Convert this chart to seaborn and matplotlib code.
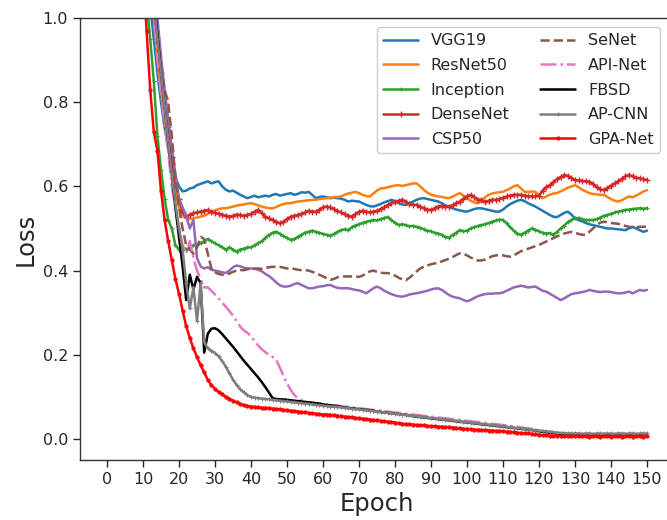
import matplotlib
matplotlib.use("Agg")
import matplotlib.pyplot as plt
import seaborn as sns

epochs = list(range(1, 151))

vgg19 = [2.5, 2.3, 2.1, 1.95, 1.8, 1.65, 1.52, 1.42, 1.33, 1.25,
         1.12, 1.03, 0.95, 0.87, 0.80, 0.74, 0.69, 0.65, 0.62, 0.60,
         0.588, 0.59, 0.595, 0.597, 0.603, 0.606, 0.609, 0.612, 0.607, 0.61,
         0.612, 0.60, 0.592, 0.588, 0.59, 0.585, 0.58, 0.576, 0.572, 0.575,
         0.578, 0.574, 0.576, 0.578, 0.576, 0.58, 0.582, 0.578, 0.58, 0.582,
         0.584, 0.58, 0.582, 0.586, 0.585, 0.587, 0.58, 0.572, 0.575, 0.576,
         0.574, 0.572, 0.573, 0.572, 0.571, 0.568, 0.564, 0.566, 0.565, 0.564,
         0.56, 0.556, 0.553, 0.552, 0.555, 0.558, 0.562, 0.565, 0.568, 0.565,
         0.56, 0.557, 0.556, 0.56, 0.564, 0.568, 0.571, 0.572, 0.57, 0.568,
         0.566, 0.564, 0.56, 0.555, 0.552, 0.548, 0.545, 0.543, 0.541, 0.54,
         0.543, 0.546, 0.548, 0.548, 0.546, 0.544, 0.542, 0.54, 0.54, 0.545,
         0.552, 0.558, 0.562, 0.566, 0.568, 0.565, 0.56, 0.556, 0.552, 0.547,
         0.542, 0.537, 0.532, 0.528, 0.527, 0.532, 0.537, 0.54, 0.533, 0.524,
         0.52, 0.517, 0.513, 0.51, 0.508, 0.506, 0.504, 0.502, 0.5, 0.5,
         0.499, 0.498, 0.497, 0.496, 0.5, 0.504, 0.5, 0.496, 0.492, 0.495]

resnet50 = [2.6, 2.4, 2.2, 2.05, 1.9, 1.75, 1.6, 1.48, 1.38, 1.3,
            1.18, 1.08, 1.0, 0.91, 0.83, 0.76, 0.70, 0.64, 0.59, 0.55,
            0.53, 0.525, 0.522, 0.524, 0.526, 0.528, 0.53, 0.535, 0.54, 0.543,
            0.546, 0.548, 0.548, 0.55, 0.552, 0.554, 0.556, 0.557, 0.559, 0.56,
            0.558, 0.555, 0.552, 0.55, 0.548, 0.548, 0.551, 0.555, 0.558, 0.56,
            0.56, 0.562, 0.564, 0.565, 0.566, 0.567, 0.568, 0.568, 0.57, 0.571,
            0.572, 0.573, 0.574, 0.575, 0.576, 0.58, 0.583, 0.585, 0.587, 0.584,
            0.58, 0.577, 0.576, 0.583, 0.59, 0.595, 0.596, 0.598, 0.6, 0.602,
            0.603, 0.601, 0.603, 0.605, 0.607, 0.607, 0.6, 0.592, 0.585, 0.58,
            0.578, 0.576, 0.575, 0.573, 0.572, 0.576, 0.58, 0.584, 0.578, 0.572,
            0.566, 0.562, 0.56, 0.566, 0.574, 0.58, 0.583, 0.585, 0.586, 0.587,
            0.591, 0.595, 0.6, 0.603, 0.595, 0.587, 0.587, 0.588, 0.587, 0.578,
            0.572, 0.576, 0.58, 0.583, 0.584, 0.588, 0.592, 0.597, 0.6, 0.603,
            0.598, 0.592, 0.588, 0.584, 0.582, 0.581, 0.58, 0.58, 0.575, 0.57,
            0.566, 0.564, 0.567, 0.572, 0.576, 0.574, 0.578, 0.583, 0.588, 0.591]

inception = [2.3, 2.1, 1.9, 1.75, 1.6, 1.48, 1.38, 1.3, 1.22, 1.15,
             1.04, 0.95, 0.85, 0.72, 0.64, 0.57, 0.52, 0.5, 0.46, 0.45,
             0.455, 0.45, 0.455, 0.46, 0.46, 0.465, 0.47, 0.475, 0.47, 0.465,
             0.46, 0.455, 0.45, 0.455, 0.45, 0.445, 0.45, 0.452, 0.455, 0.455,
             0.46, 0.465, 0.47, 0.478, 0.485, 0.49, 0.492, 0.488, 0.482, 0.478,
             0.473, 0.475, 0.48, 0.485, 0.49, 0.492, 0.495, 0.492, 0.49, 0.487,
             0.485, 0.483, 0.487, 0.492, 0.496, 0.498, 0.496, 0.503, 0.507, 0.51,
             0.513, 0.516, 0.518, 0.52, 0.519, 0.522, 0.525, 0.527, 0.52, 0.514,
             0.508, 0.51, 0.508, 0.505, 0.506, 0.504, 0.502, 0.498, 0.495, 0.493,
             0.49, 0.488, 0.485, 0.48, 0.478, 0.485, 0.49, 0.496, 0.493, 0.495,
             0.5, 0.503, 0.506, 0.508, 0.51, 0.513, 0.516, 0.519, 0.521, 0.52,
             0.512, 0.503, 0.495, 0.488, 0.485, 0.49, 0.495, 0.5, 0.497, 0.493,
             0.49, 0.488, 0.489, 0.485, 0.492, 0.5, 0.507, 0.515, 0.52, 0.524,
             0.525, 0.522, 0.52, 0.52, 0.52, 0.522, 0.526, 0.53, 0.532, 0.535,
             0.538, 0.54, 0.542, 0.544, 0.545, 0.546, 0.547, 0.548, 0.547, 0.548]

densenet = [2.6, 2.4, 2.2, 2.05, 1.9, 1.78, 1.66, 1.55, 1.45, 1.35,
            1.22, 1.12, 1.04, 0.95, 0.87, 0.81, 0.74, 0.67, 0.61, 0.57,
            0.54, 0.528, 0.533, 0.536, 0.538, 0.54, 0.542, 0.544, 0.54, 0.537,
            0.535, 0.533, 0.53, 0.528, 0.53, 0.533, 0.532, 0.53, 0.532, 0.535,
            0.54, 0.544, 0.536, 0.528, 0.524, 0.52, 0.516, 0.512, 0.516, 0.522,
            0.528, 0.53, 0.532, 0.534, 0.538, 0.542, 0.54, 0.54, 0.545, 0.55,
            0.552, 0.55, 0.546, 0.542, 0.538, 0.534, 0.53, 0.528, 0.534, 0.54,
            0.542, 0.54, 0.538, 0.54, 0.542, 0.546, 0.55, 0.556, 0.56, 0.563,
            0.566, 0.568, 0.564, 0.558, 0.556, 0.556, 0.552, 0.548, 0.545, 0.544,
            0.548, 0.552, 0.554, 0.552, 0.552, 0.555, 0.56, 0.564, 0.57, 0.576,
            0.58, 0.575, 0.568, 0.568, 0.563, 0.566, 0.568, 0.568, 0.57, 0.573,
            0.576, 0.578, 0.58, 0.58, 0.58, 0.578, 0.576, 0.576, 0.576, 0.578,
            0.59, 0.598, 0.603, 0.61, 0.617, 0.622, 0.627, 0.625, 0.62, 0.615,
            0.614, 0.613, 0.612, 0.611, 0.606, 0.598, 0.593, 0.591, 0.596, 0.602,
            0.607, 0.612, 0.618, 0.624, 0.627, 0.624, 0.621, 0.619, 0.617, 0.615]

csp50 = [2.9, 2.7, 2.5, 2.3, 2.1, 1.95, 1.8, 1.67, 1.55, 1.45,
         1.32, 1.2, 1.1, 1.0, 0.91, 0.83, 0.76, 0.69, 0.63, 0.57,
         0.55, 0.53, 0.5, 0.52, 0.43, 0.41, 0.405, 0.408, 0.402, 0.4,
         0.398, 0.396, 0.394, 0.4, 0.408, 0.412, 0.41, 0.407, 0.405, 0.405,
         0.404, 0.402, 0.398, 0.392, 0.387, 0.38, 0.372, 0.365, 0.362, 0.362,
         0.364, 0.368, 0.37, 0.366, 0.362, 0.358, 0.358, 0.36, 0.362, 0.363,
         0.365, 0.366, 0.362, 0.359, 0.358, 0.358, 0.358, 0.356, 0.354, 0.353,
         0.35, 0.346, 0.352, 0.358, 0.362, 0.358, 0.352, 0.348, 0.344, 0.341,
         0.339, 0.338, 0.34, 0.343, 0.345, 0.346, 0.348, 0.35, 0.352, 0.355,
         0.357, 0.358, 0.354, 0.348, 0.342, 0.338, 0.336, 0.334, 0.33, 0.327,
         0.33, 0.335, 0.339, 0.342, 0.344, 0.345, 0.345, 0.346, 0.346, 0.348,
         0.352, 0.356, 0.36, 0.362, 0.364, 0.362, 0.36, 0.361, 0.362, 0.357,
         0.352, 0.35, 0.345, 0.34, 0.335, 0.33, 0.334, 0.339, 0.344, 0.346,
         0.347, 0.349, 0.351, 0.354, 0.352, 0.35, 0.349, 0.35, 0.35, 0.349,
         0.347, 0.346, 0.346, 0.348, 0.35, 0.346, 0.35, 0.354, 0.352, 0.354]

senet = [2.6, 2.4, 2.2, 2.05, 1.9, 1.78, 1.66, 1.55, 1.45, 1.35,
         1.22, 1.1, 1.03, 0.96, 0.88, 0.83, 0.8, 0.72, 0.62, 0.55,
         0.5, 0.46, 0.45, 0.44, 0.455, 0.48, 0.475, 0.44, 0.405, 0.396,
         0.392, 0.39, 0.39, 0.393, 0.397, 0.4, 0.401, 0.401, 0.403, 0.405,
         0.405, 0.405, 0.404, 0.406, 0.408, 0.409, 0.409, 0.409, 0.407, 0.405,
         0.405, 0.404, 0.402, 0.401, 0.401, 0.4, 0.397, 0.394, 0.39, 0.386,
         0.382, 0.378, 0.38, 0.384, 0.386, 0.386, 0.386, 0.386, 0.386, 0.385,
         0.388, 0.394, 0.398, 0.4, 0.397, 0.395, 0.394, 0.394, 0.392, 0.388,
         0.383, 0.379, 0.377, 0.383, 0.39, 0.398, 0.405, 0.409, 0.412, 0.415,
         0.417, 0.418, 0.422, 0.425, 0.428, 0.432, 0.437, 0.441, 0.44, 0.436,
         0.431, 0.427, 0.424, 0.424, 0.426, 0.43, 0.434, 0.436, 0.437, 0.436,
         0.434, 0.433, 0.436, 0.441, 0.446, 0.449, 0.452, 0.455, 0.458, 0.461,
         0.465, 0.469, 0.473, 0.477, 0.481, 0.485, 0.488, 0.49, 0.492, 0.49,
         0.487, 0.485, 0.485, 0.492, 0.5, 0.508, 0.514, 0.516, 0.515, 0.513,
         0.512, 0.511, 0.509, 0.506, 0.504, 0.503, 0.503, 0.504, 0.504, 0.504]

api_net = [2.7, 2.5, 2.3, 2.1, 1.95, 1.8, 1.66, 1.54, 1.44, 1.35,
           1.22, 1.1, 1.0, 0.9, 0.82, 0.75, 0.68, 0.6, 0.55, 0.5,
           0.46, 0.44, 0.47, 0.43, 0.4, 0.38, 0.36, 0.36, 0.352, 0.343,
           0.334, 0.324, 0.314, 0.304, 0.293, 0.28, 0.267, 0.258, 0.252, 0.245,
           0.232, 0.222, 0.213, 0.206, 0.2, 0.195, 0.188, 0.17, 0.15, 0.132,
           0.117, 0.105, 0.097, 0.092, 0.089, 0.087, 0.086, 0.085, 0.084, 0.083,
           0.082, 0.081, 0.080, 0.079, 0.078, 0.077, 0.076, 0.075, 0.074, 0.073,
           0.072, 0.071, 0.070, 0.069, 0.068, 0.067, 0.066, 0.065, 0.064, 0.063,
           0.062, 0.061, 0.060, 0.059, 0.058, 0.057, 0.056, 0.055, 0.054, 0.053,
           0.052, 0.051, 0.050, 0.049, 0.048, 0.047, 0.046, 0.045, 0.044, 0.043,
           0.042, 0.041, 0.040, 0.039, 0.038, 0.037, 0.036, 0.035, 0.034, 0.033,
           0.032, 0.031, 0.030, 0.029, 0.027, 0.026, 0.025, 0.024, 0.022, 0.021,
           0.019, 0.018, 0.017, 0.016, 0.015, 0.014, 0.013, 0.013, 0.012, 0.012,
           0.012, 0.012, 0.011, 0.012, 0.012, 0.011, 0.012, 0.012, 0.011, 0.012,
           0.012, 0.011, 0.012, 0.012, 0.011, 0.012, 0.012, 0.011, 0.012, 0.012]

fbsd = [2.9, 2.7, 2.5, 2.3, 2.1, 1.9, 1.75, 1.6, 1.5, 1.4,
        1.28, 1.15, 1.05, 0.96, 0.87, 0.79, 0.71, 0.63, 0.55, 0.48,
        0.41, 0.33, 0.39, 0.355, 0.385, 0.37, 0.205, 0.25, 0.262, 0.263,
        0.258, 0.249, 0.239, 0.229, 0.219, 0.208, 0.197, 0.186, 0.176, 0.166,
        0.156, 0.146, 0.135, 0.123, 0.11, 0.097, 0.095, 0.094, 0.094, 0.093,
        0.092, 0.091, 0.090, 0.089, 0.088, 0.087, 0.086, 0.085, 0.084, 0.082,
        0.081, 0.080, 0.079, 0.078, 0.076, 0.075, 0.074, 0.073, 0.072, 0.071,
        0.070, 0.069, 0.068, 0.067, 0.065, 0.064, 0.063, 0.062, 0.061, 0.060,
        0.059, 0.058, 0.057, 0.056, 0.054, 0.053, 0.052, 0.051, 0.050, 0.049,
        0.048, 0.047, 0.046, 0.045, 0.044, 0.043, 0.042, 0.041, 0.040, 0.039,
        0.038, 0.037, 0.036, 0.035, 0.034, 0.033, 0.032, 0.031, 0.030, 0.029,
        0.028, 0.027, 0.026, 0.025, 0.024, 0.023, 0.022, 0.021, 0.020, 0.018,
        0.017, 0.016, 0.015, 0.014, 0.013, 0.012, 0.012, 0.011, 0.011, 0.011,
        0.011, 0.010, 0.011, 0.011, 0.010, 0.011, 0.011, 0.010, 0.011, 0.011,
        0.010, 0.011, 0.011, 0.010, 0.011, 0.011, 0.010, 0.011, 0.011, 0.011]

ap_cnn = [2.8, 2.6, 2.4, 2.2, 2.0, 1.85, 1.7, 1.58, 1.48, 1.38,
          1.26, 1.14, 1.04, 0.95, 0.87, 0.79, 0.71, 0.63, 0.56, 0.5,
          0.45, 0.37, 0.31, 0.36, 0.28, 0.37, 0.23, 0.215, 0.21, 0.204,
          0.196, 0.185, 0.172, 0.156, 0.141, 0.128, 0.118, 0.111, 0.104, 0.100,
          0.098, 0.097, 0.096, 0.095, 0.094, 0.093, 0.092, 0.091, 0.090, 0.089,
          0.088, 0.087, 0.086, 0.085, 0.084, 0.083, 0.082, 0.081, 0.080, 0.079,
          0.078, 0.077, 0.077, 0.076, 0.075, 0.074, 0.073, 0.072, 0.071, 0.070,
          0.069, 0.068, 0.067, 0.066, 0.065, 0.064, 0.063, 0.062, 0.061, 0.060,
          0.059, 0.058, 0.057, 0.056, 0.055, 0.054, 0.053, 0.052, 0.051, 0.050,
          0.049, 0.048, 0.047, 0.046, 0.045, 0.044, 0.043, 0.042, 0.041, 0.040,
          0.039, 0.038, 0.037, 0.036, 0.035, 0.034, 0.033, 0.032, 0.031, 0.030,
          0.029, 0.028, 0.027, 0.026, 0.025, 0.024, 0.023, 0.022, 0.021, 0.020,
          0.019, 0.018, 0.017, 0.016, 0.015, 0.014, 0.014, 0.013, 0.013, 0.013,
          0.013, 0.012, 0.013, 0.013, 0.012, 0.013, 0.013, 0.012, 0.013, 0.013,
          0.012, 0.013, 0.013, 0.012, 0.013, 0.013, 0.012, 0.013, 0.013, 0.013]

gpa_net = [2.40, 2.20, 2.00, 1.85, 1.70, 1.56, 1.44, 1.33, 1.22, 1.12,
           0.97, 0.83, 0.73, 0.685, 0.59, 0.52, 0.47, 0.425, 0.38, 0.345,
           0.305, 0.268, 0.24, 0.215, 0.195, 0.175, 0.158, 0.14, 0.128, 0.119,
           0.112, 0.106, 0.100, 0.095, 0.091, 0.087, 0.083, 0.080, 0.078, 0.077,
           0.076, 0.075, 0.074, 0.074, 0.073, 0.072, 0.071, 0.070, 0.069, 0.068,
           0.067, 0.066, 0.065, 0.064, 0.063, 0.062, 0.061, 0.060, 0.059, 0.058,
           0.058, 0.057, 0.056, 0.055, 0.054, 0.053, 0.052, 0.051, 0.050, 0.049,
           0.048, 0.047, 0.046, 0.045, 0.044, 0.043, 0.042, 0.041, 0.040, 0.039,
           0.037, 0.036, 0.035, 0.035, 0.034, 0.033, 0.032, 0.032, 0.031, 0.030,
           0.030, 0.029, 0.029, 0.028, 0.028, 0.027, 0.026, 0.025, 0.024, 0.024,
           0.023, 0.022, 0.022, 0.021, 0.021, 0.020, 0.020, 0.019, 0.019, 0.018,
           0.017, 0.017, 0.016, 0.015, 0.014, 0.013, 0.013, 0.012, 0.011, 0.010,
           0.009, 0.009, 0.008, 0.008, 0.007, 0.007, 0.006, 0.006, 0.006, 0.006,
           0.006, 0.006, 0.006, 0.005, 0.006, 0.006, 0.005, 0.006, 0.006, 0.005,
           0.006, 0.006, 0.005, 0.006, 0.006, 0.005, 0.006, 0.006, 0.005, 0.006]

x_ticks = list(range(0, 151, 10))
y_ticks = [0.0, 0.2, 0.4, 0.6, 0.8, 1.0]
y_tick_labels = ["0.0", "0.2", "0.4", "0.6", "0.8", "1.0"]

sns.set_theme(style="ticks")
plt.rcParams['font.family'] = ['DejaVu Sans']

fig = plt.figure(figsize=(6.67, 5.2), dpi=100)
ax = fig.add_axes([80 / 667, 60 / 520, 594 / 667, 442 / 520])

lw = 1.8
series = [
    ("VGG19", vgg19, dict(color="#1f77b4")),
    ("ResNet50", resnet50, dict(color="#ff7f0e")),
    ("Inception", inception, dict(color="#2ca02c", marker="+", markersize=2.5,
                                  markeredgecolor="#2ca02c", markeredgewidth=0.8)),
    ("DenseNet", densenet, dict(color="#d62728", marker="+", markersize=5,
                                markeredgecolor="#d62728", markeredgewidth=1.0)),
    ("CSP50", csp50, dict(color="#9467bd")),
    ("SeNet", senet, dict(color="#8c564b", linestyle="--")),
    ("API-Net", api_net, dict(color="#e377c2", linestyle="-.")),
    ("FBSD", fbsd, dict(color="black")),
    ("AP-CNN", ap_cnn, dict(color="#7f7f7f", marker="+", markersize=2.5,
                            markeredgecolor="#7f7f7f", markeredgewidth=0.8)),
    ("GPA-Net", gpa_net, dict(color="red", marker=".", markersize=5,
                              markeredgecolor="red", markeredgewidth=0.5)),
]

for name, vals, style in series:
    sns.lineplot(x=epochs, y=vals, ax=ax, label=name, estimator=None,
                 sort=False, linewidth=lw, **style)

ax.set_xlim(-7.5, 157.5)
ax.set_ylim(-0.05, 1.0)
ax.set_xticks(x_ticks)
ax.set_yticks(y_ticks)
ax.set_yticklabels(y_tick_labels)
ax.tick_params(labelsize=11.5, length=5, width=1)
ax.set_xlabel("Epoch", fontsize=17.5)
ax.set_ylabel("Loss", fontsize=17.5)
for sp in ax.spines.values():
    sp.set_linewidth(1.0)
    sp.set_color("#333333")

ax.legend(ncol=2, loc="upper right", bbox_to_anchor=(660 / 667, 1 - 27 / 520),
          bbox_transform=fig.transFigure, borderaxespad=0, fontsize=11.5,
          labelspacing=0.6, handlelength=2.2, columnspacing=1.9,
          frameon=True, fancybox=True, edgecolor="#cccccc", framealpha=1.0)

fig.savefig("out.png", dpi=100)
